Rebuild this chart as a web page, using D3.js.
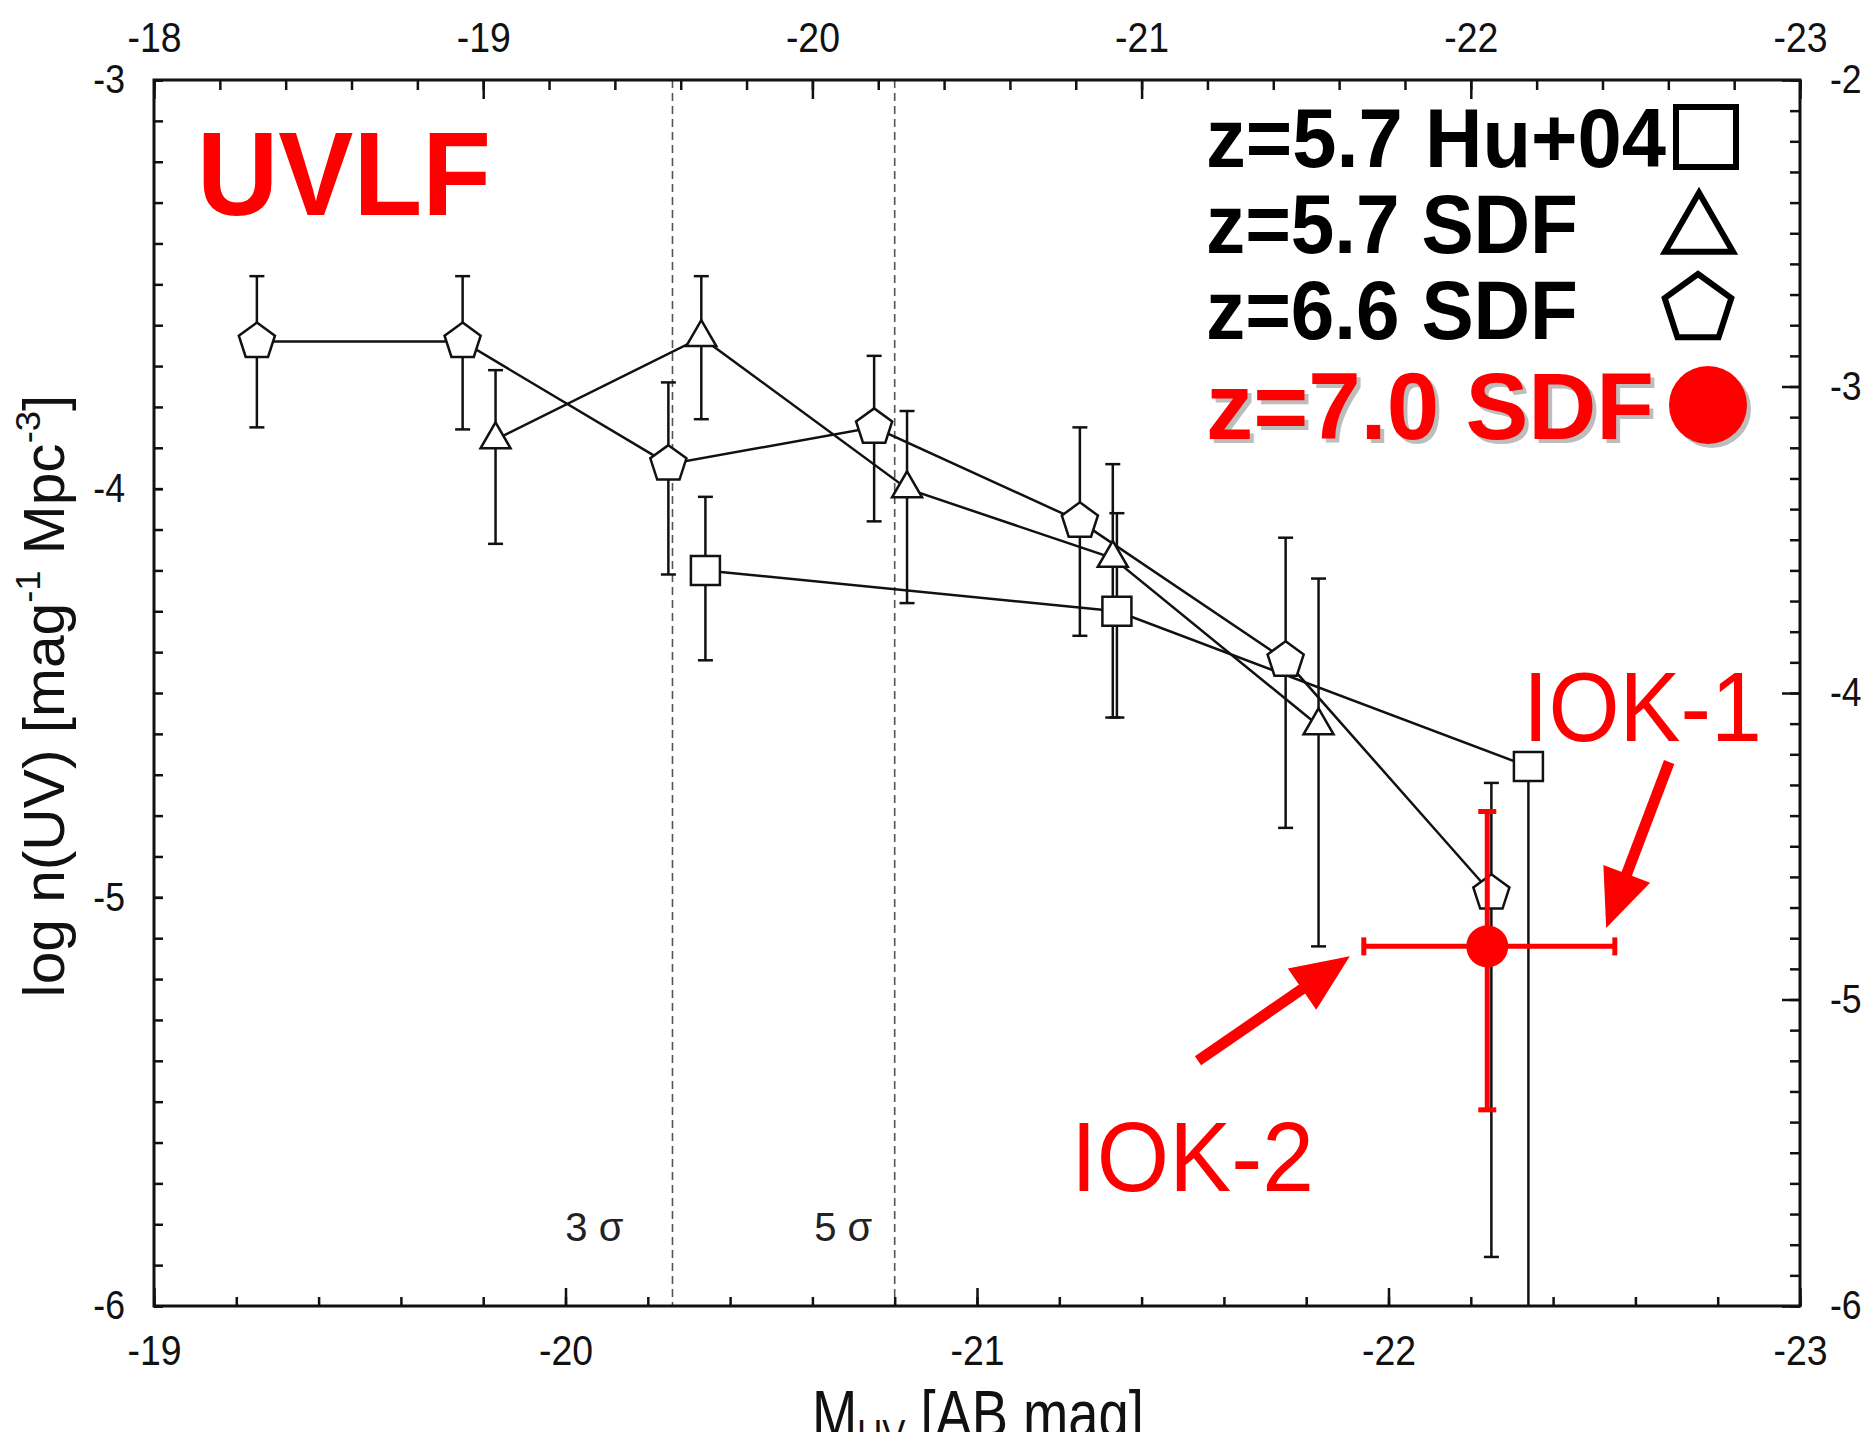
<!DOCTYPE html>
<html>
<head>
<meta charset="utf-8">
<script src="https://cdnjs.cloudflare.com/ajax/libs/d3/7.8.5/d3.min.js"></script>
<style>
body { margin: 0; background: #fff; }
svg { display: block; font-family: "Liberation Sans", Arial, sans-serif; }
</style>
</head>
<body>
<svg width="1873" height="1432"></svg>
<script>

// z=6.6 SDF (pentagons) -- M_UV, log n, upper and lower error
var pentX = [-19.25, -19.75, -20.25, -20.75, -21.25, -21.75, -22.25]
var pentY = [-3.64, -3.64, -3.94, -3.85, -4.08, -4.42, -4.99]
var pentHi = [-3.48, -3.48, -3.74, -3.675, -3.85, -4.12, -4.72]
var pentLo = [-3.85, -3.855, -4.21, -4.08, -4.36, -4.83, -5.88]

// z=5.7 SDF (triangles)
var triX = [-19.83, -20.33, -20.83, -21.33, -21.83]
var triY = [-3.88, -3.63, -4.00, -4.17, -4.58]
var triHi = [-3.71, -3.48, -3.81, -3.94, -4.22]
var triLo = [-4.135, -3.83, -4.28, -4.56, -5.12]

// z=5.7 Hu+04 (squares), last point has only a lower bar down to the axis
var sqX = [-20.34, -21.34, -22.34]
var sqY = [-4.20, -4.30, -4.68]
var sqHi = [-4.02, -4.06, null]
var sqLo = [-4.42, -4.56, -6]

// z=7.0 SDF (red)
var redX = [-22.24]
var redY = [-5.12]
var redXErr = [[-21.94, -22.55]]
var redYErr = [[-4.79, -5.52]]

// detection limits
var limitX = [-20.26, -20.80]
var limitLabels = ["3 σ", "5 σ"]
var limitLabelX = [-20.07, -20.675]

// axes ticks
var bottomTicks = [-19, -20, -21, -22, -23]
var topTicks = [-18, -19, -20, -21, -22, -23]
var leftTicks = [-3, -4, -5, -6]
var rightTicks = [-2, -3, -4, -5, -6]

var legendLabels = ["z=5.7 Hu+04", "z=5.7 SDF", "z=6.6 SDF", "z=7.0 SDF"]

// arrows: tail and tip, in bottom/left data units
var arrowLabels = ["IOK-1", "IOK-2"]
var arrows = [
    {x0: -22.682, y0: -4.669, x1: -22.529, y1: -5.075},
    {x0: -21.537, y0: -5.400, x1: -21.906, y1: -5.144}
]

var svg = d3.select("svg")
var pLeft = 154, pRight = 1800, pTop = 80, pBottom = 1306
var fontFam = "Liberation Sans, Arial, sans-serif"
var squeeze = 0.89

var x = d3.scaleLinear().domain([-19, -23]).range([pLeft, pRight])
var xTop = d3.scaleLinear().domain([-18, -23]).range([pLeft, pRight])
var y = d3.scaleLinear().domain([-3, -6]).range([pTop, pBottom])
var yRight = d3.scaleLinear().domain([-2, -6]).range([pTop, pBottom])

// set a text to an exact width by squeezing it horizontally
function placeText(t, px, py, w, rot) {
    var k = w / t.node().getComputedTextLength()
    t.attr("transform", "translate(" + px + "," + py + ")" + (rot ? " rotate(" + rot + ")" : "") + " scale(" + k + ",1)")
}

function styleAxis(g, size) {
    g.select(".domain").remove()
    g.selectAll("line").attr("stroke", "#111").attr("stroke-width", 2.5)
    g.selectAll("text")
        .attr("font-size", size)
        .attr("font-family", fontFam)
        .attr("fill", "#111")
        .attr("x", function() { return +d3.select(this).attr("x") / squeeze })
        .attr("transform", "scale(" + squeeze + ",1)")
}

// dashed limit lines
svg.append("g").selectAll("line")
    .data(limitX)
    .enter().append("line")
    .attr("x1", d => x(d)).attr("x2", d => x(d))
    .attr("y1", pTop).attr("y2", pBottom)
    .attr("stroke", "#555")
    .attr("stroke-width", 1.6)
    .attr("stroke-dasharray", "8,5")

svg.append("g").selectAll("text")
    .data(limitLabels)
    .enter().append("text")
    .attr("x", (d, i) => x(limitLabelX[i]))
    .attr("y", y(-5.84))
    .attr("text-anchor", "middle")
    .attr("font-size", 40)
    .attr("fill", "#222")
    .text(d => d)

// series
function makeSeries(xs, ys, his, los) {
    return xs.map((d, i) => ({x: d, y: ys[i], hi: his[i], lo: los[i]}))
}
var pent = makeSeries(pentX, pentY, pentHi, pentLo)
var tri = makeSeries(triX, triY, triHi, triLo)
var sq = makeSeries(sqX, sqY, sqHi, sqLo)

var line = d3.line().x(d => x(d.x)).y(d => y(d.y))

var plot = svg.append("g")

;[sq, tri, pent].forEach(s => {
    plot.append("path")
        .attr("d", line(s))
        .attr("fill", "none")
        .attr("stroke", "#111")
        .attr("stroke-width", 2.5)
})

function errorBars(s) {
    var g = plot.append("g").attr("stroke", "#111").attr("stroke-width", 2.5)
    s.forEach(d => {
        var hiEnd = d.hi == null ? d.y : d.hi
        g.append("line")
            .attr("x1", x(d.x)).attr("x2", x(d.x))
            .attr("y1", y(hiEnd)).attr("y2", y(d.lo))
        if (d.hi != null) {
            g.append("line").attr("x1", x(d.x) - 7.5).attr("x2", x(d.x) + 7.5)
                .attr("y1", y(d.hi)).attr("y2", y(d.hi))
        }
        if (d.lo > -6) {
            g.append("line").attr("x1", x(d.x) - 7.5).attr("x2", x(d.x) + 7.5)
                .attr("y1", y(d.lo)).attr("y2", y(d.lo))
        }
    })
}
errorBars(sq)
errorBars(tri)
errorBars(pent)

function pentagonPath(r) {
    var pts = d3.range(5).map(k => {
        var a = (-90 + 72 * k) * Math.PI / 180
        return [r * Math.cos(a), r * Math.sin(a)]
    })
    return "M" + pts.join("L") + "Z"
}

function markers(s, pathStr) {
    plot.append("g").selectAll("path")
        .data(s)
        .enter().append("path")
        .attr("d", pathStr)
        .attr("transform", d => "translate(" + x(d.x) + "," + y(d.y) + ")")
        .attr("fill", "#fff")
        .attr("stroke", "#111")
        .attr("stroke-width", 2.5)
}
markers(sq, d3.symbol().type(d3.symbolSquare).size(841)())
markers(tri, d3.symbol().type(d3.symbolTriangle).size(390)())
markers(pent, pentagonPath(19))

// red z=7.0 point
var red = plot.append("g").attr("stroke", "#ff0000").attr("stroke-width", 5)
redX.forEach((d, i) => {
    var cx = x(d), cy = y(redY[i])
    var xe = redXErr[i], ye = redYErr[i]
    red.append("line").attr("x1", x(xe[0])).attr("x2", x(xe[1])).attr("y1", cy).attr("y2", cy)
    red.append("line").attr("x1", cx).attr("x2", cx).attr("y1", y(ye[0])).attr("y2", y(ye[1]))
    xe.forEach(v => red.append("line").attr("x1", x(v)).attr("x2", x(v)).attr("y1", cy - 9).attr("y2", cy + 9))
    ye.forEach(v => red.append("line").attr("x1", cx - 9).attr("x2", cx + 9).attr("y1", y(v)).attr("y2", y(v)))
    red.append("circle").attr("cx", cx).attr("cy", cy).attr("r", 21).attr("fill", "#ff0000").attr("stroke", "none")
})

// arrows
arrows.forEach(a => {
    var x0 = x(a.x0), y0 = y(a.y0), x1 = x(a.x1), y1 = y(a.y1)
    var dx = x1 - x0, dy = y1 - y0
    var len = Math.sqrt(dx * dx + dy * dy)
    var ux = dx / len, uy = dy / len
    var headL = 58, headW = 25
    var bx = x1 - ux * headL, by = y1 - uy * headL
    svg.append("line")
        .attr("x1", x0).attr("y1", y0).attr("x2", bx + ux * 4).attr("y2", by + uy * 4)
        .attr("stroke", "#ff0000").attr("stroke-width", 11)
    svg.append("path")
        .attr("d", "M" + x1 + "," + y1 + "L" + (bx - uy * headW) + "," + (by + ux * headW) +
            "L" + (bx + uy * headW) + "," + (by - ux * headW) + "Z")
        .attr("fill", "#ff0000")
})

var iok1 = svg.append("text").attr("font-size", 98).attr("fill", "#ff0000").text(arrowLabels[0])
placeText(iok1, 1523, 741, 239)
var iok2 = svg.append("text").attr("font-size", 98).attr("fill", "#ff0000").text(arrowLabels[1])
placeText(iok2, 1071, 1191, 243)

// UVLF title
var title = svg.append("text").attr("font-size", 119).attr("font-weight", 700).attr("fill", "#ff0000").text("UVLF")
placeText(title, 197, 215, 294)

// legend
var legendRows = [
    {base: 167, w: 460, size: 83},
    {base: 253, w: 372, size: 83},
    {base: 339, w: 372, size: 83},
    {base: 439, w: 448, size: 94}
]
legendLabels.forEach((lab, i) => {
    var r = legendRows[i]
    if (i == 3) {
        var sh = svg.append("text").attr("font-size", r.size).attr("font-weight", 700).attr("fill", "#bdbdbd").text(lab)
        placeText(sh, 1210, r.base + 4, r.w)
    }
    var t = svg.append("text").attr("font-size", r.size).attr("font-weight", 700)
        .attr("fill", i == 3 ? "#ff0000" : "#000").text(lab)
    placeText(t, 1206, r.base, r.w)
})

var leg = svg.append("g").attr("fill", "#fff").attr("stroke", "#000").attr("stroke-width", 6)
leg.append("path").attr("d", d3.symbol().type(d3.symbolSquare).size(3600)()).attr("transform", "translate(1706,137)")
leg.append("path").attr("d", d3.symbol().type(d3.symbolTriangle).size(2002)()).attr("transform", "translate(1699,232)")
leg.append("path").attr("d", pentagonPath(35)).attr("transform", "translate(1698,309)")
svg.append("circle").attr("cx", 1712).attr("cy", 409).attr("r", 39).attr("fill", "#bdbdbd")
svg.append("circle").attr("cx", 1708).attr("cy", 405).attr("r", 39).attr("fill", "#ff0000")

// axes
var fmt = d => String(d)
var minorBottom = d3.range(0, 21).map(i => -19 - i * 0.2)
var minorTop = d3.range(0, 26).map(i => -18 - i * 0.2)
var minorLeft = d3.range(0, 31).map(i => -3 - i * 0.1)
var minorRight = d3.range(0, 41).map(i => -2 - i * 0.1)

svg.append("g").attr("transform", "translate(0," + pBottom + ")")
    .call(d3.axisBottom(x).tickValues(minorBottom).tickSize(-9).tickFormat(""))
    .call(g => styleAxis(g, 42))
svg.append("g").attr("transform", "translate(0," + pBottom + ")")
    .call(d3.axisBottom(x).tickValues(bottomTicks).tickSize(-18).tickPadding(29).tickFormat(fmt))
    .call(g => styleAxis(g, 42))

svg.append("g").attr("transform", "translate(0," + pTop + ")")
    .call(d3.axisTop(xTop).tickValues(minorTop).tickSize(-10).tickFormat(""))
    .call(g => styleAxis(g, 42))
svg.append("g").attr("transform", "translate(0," + pTop + ")")
    .call(d3.axisTop(xTop).tickValues(topTicks).tickSize(-19).tickPadding(28).tickFormat(fmt))
    .call(g => styleAxis(g, 42))

svg.append("g").attr("transform", "translate(" + pLeft + ",0)")
    .call(d3.axisLeft(y).tickValues(minorLeft).tickSize(-9).tickFormat(""))
    .call(g => styleAxis(g, 40))
svg.append("g").attr("transform", "translate(" + pLeft + ",0)")
    .call(d3.axisLeft(y).tickValues(leftTicks).tickSize(-9).tickPadding(29).tickFormat(fmt))
    .call(g => styleAxis(g, 40))

svg.append("g").attr("transform", "translate(" + pRight + ",0)")
    .call(d3.axisRight(yRight).tickValues(minorRight).tickSize(-10).tickFormat(""))
    .call(g => styleAxis(g, 40))
svg.append("g").attr("transform", "translate(" + pRight + ",0)")
    .call(d3.axisRight(yRight).tickValues(rightTicks).tickSize(-18).tickPadding(30).tickFormat(fmt))
    .call(g => styleAxis(g, 40))

svg.append("rect")
    .attr("x", pLeft).attr("y", pTop)
    .attr("width", pRight - pLeft).attr("height", pBottom - pTop)
    .attr("fill", "none").attr("stroke", "#111").attr("stroke-width", 3)

// axis titles
var xl = svg.append("text").attr("font-size", 66).attr("fill", "#111")
xl.append("tspan").text("M")
xl.append("tspan").attr("font-size", 42).attr("dy", 12).text("UV")
xl.append("tspan").attr("dy", -12).text(" [AB mag]")
placeText(xl, 812, 1437, 332)

var yl = svg.append("text").attr("font-size", 58).attr("fill", "#111").attr("text-anchor", "middle")
yl.append("tspan").text("log n(UV) [mag")
yl.append("tspan").attr("font-size", 36).attr("dy", -24).text("-1")
yl.append("tspan").attr("dy", 24).text(" Mpc")
yl.append("tspan").attr("font-size", 36).attr("dy", -24).text("-3")
yl.append("tspan").attr("dy", 24).text("]")
placeText(yl, 64, 696, 603, -90)

</script>
</body>
</html>
